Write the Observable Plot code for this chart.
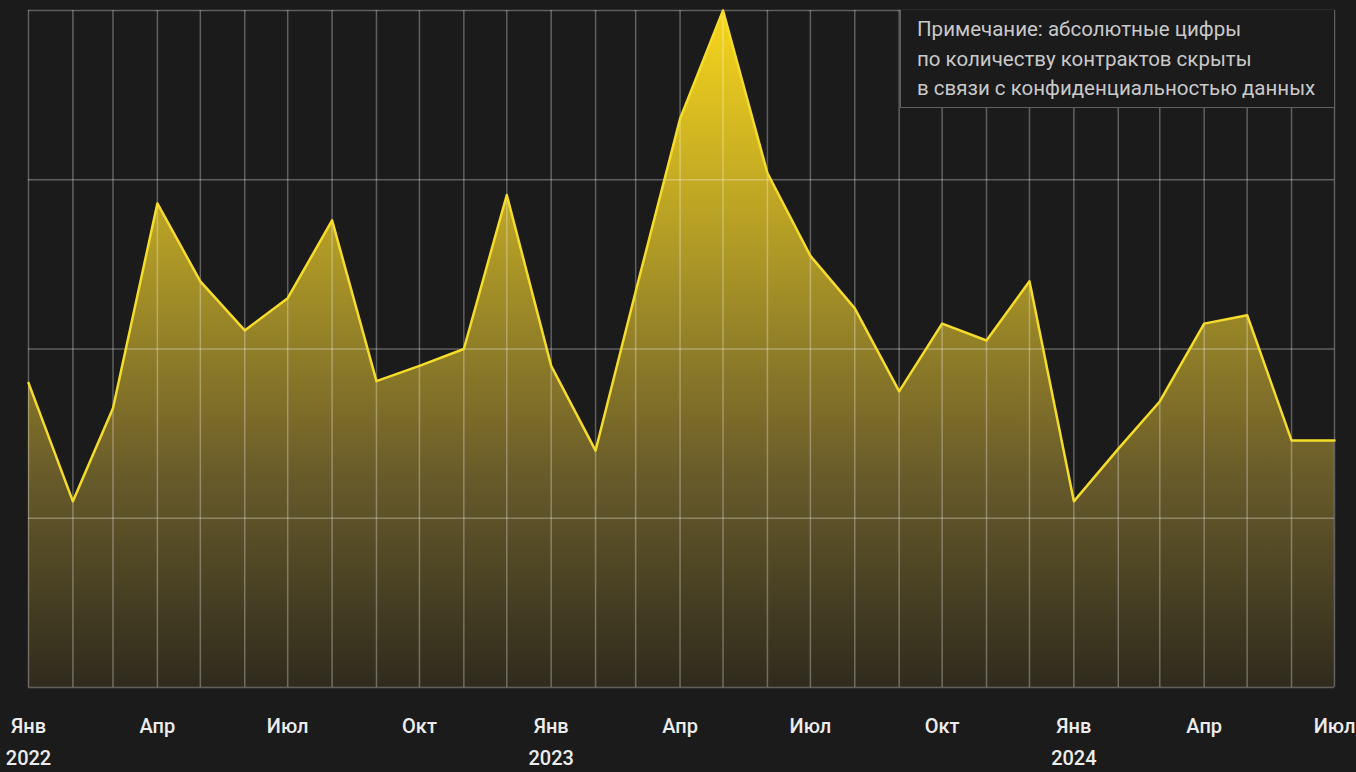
<!DOCTYPE html>
<html>
<head>
<meta charset="utf-8">
<script src="https://cdn.jsdelivr.net/npm/d3@7"></script>
<script src="https://cdn.jsdelivr.net/npm/@observablehq/plot@0.6"></script>
<style>
  html, body { margin: 0; padding: 0; background: #1b1b1b; }
  #wrap { position: relative; width: 1356px; height: 772px; overflow: hidden; }
  #note {
    position: absolute; left: 900px; top: 10px; width: 434px; height: 98px;
    box-sizing: border-box; background: #1b1b1b; border: 1.5px solid #5f5f5f; border-top: none; border-right: none;
    color: #c9c9c9; font-family: Roboto, "Noto Sans", sans-serif; font-size: 20.5px; line-height: 29.5px;
    padding: 5px 0 0 16px;
  }
</style>
</head>
<body>
<div id="wrap"></div>
<script>
const months = ["2022-01","2022-02","2022-03","2022-04","2022-05","2022-06","2022-07","2022-08","2022-09","2022-10","2022-11","2022-12",
  "2023-01","2023-02","2023-03","2023-04","2023-05","2023-06","2023-07","2023-08","2023-09","2023-10","2023-11","2023-12",
  "2024-01","2024-02","2024-03","2024-04","2024-05","2024-06","2024-07"];
const values = [180,110,165,286,240,211,230,276,181,190,200,291,
  190,140,234,336,400,304,255,224,175,215,205,240,
  110,141,169,215,220,146,146];
const monthNames = ["Янв","Фев","Мар","Апр","Май","Июн","Июл","Авг","Сен","Окт","Ноя","Дек"];
const yGrid = [0,100,200,300,400];
const noteLines = ["Примечание: абсолютные цифры","по количеству контрактов скрыты","в связи с конфиденциальностью данных"];

const data = months.map((m, i) => ({date: new Date(m + "-01T00:00:00Z"), value: values[i]}));

const gradientDefs = (index, scales, values, dims) => {
  const ns = "http://www.w3.org/2000/svg";
  const defs = document.createElementNS(ns, "defs");
  const lg = document.createElementNS(ns, "linearGradient");
  lg.setAttribute("id", "areaGrad");
  lg.setAttribute("gradientUnits", "userSpaceOnUse");
  lg.setAttribute("x1", 0); lg.setAttribute("x2", 0);
  lg.setAttribute("y1", dims.marginTop);
  lg.setAttribute("y2", dims.height - dims.marginBottom);
  [["0", "#f7d51c"], ["0.35", "#b09a26"], ["0.7", "#66592a"], ["1", "#2f2b1d"]].forEach(([o, c]) => {
    const s = document.createElementNS(ns, "stop");
    s.setAttribute("offset", o); s.setAttribute("stop-color", c);
    lg.appendChild(s);
  });
  defs.appendChild(lg);
  return defs;
};

const chart = Plot.plot({
  width: 1356,
  height: 772,
  marginLeft: 28,
  marginRight: 22,
  marginTop: 10,
  marginBottom: 85,
  style: {background: "#1b1b1b", fontFamily: "Roboto, 'Noto Sans', sans-serif"},
  x: {type: "utc", domain: [data[0].date, data[data.length - 1].date]},
  y: {domain: [0, 400], axis: null},
  marks: [
    gradientDefs,
    Plot.areaY(data, {x: "date", y: "value", fill: "url(#areaGrad)"}),
    Plot.gridX({ticks: d3.utcMonth.every(1), stroke: "#ffffff", strokeOpacity: 0.3, strokeWidth: 1.5}),
    Plot.gridY(yGrid, {stroke: "#ffffff", strokeOpacity: 0.3, strokeWidth: 1.5}),
    Plot.lineY(data, {x: "date", y: "value", stroke: "#f6dc2a", strokeWidth: 2.5}),
    Plot.axisX({
      ticks: d3.utcMonth.every(3),
      tickFormat: d => monthNames[d.getUTCMonth()] + (d.getUTCMonth() === 0 ? "\n" + d.getUTCFullYear() : ""),
      tickSize: 0,
      tickPadding: 23,
      fontSize: 20,
      fontWeight: 500,
      lineHeight: 1.6,
      fill: "#ececec",
      label: null
    })
  ]
});

const wrap = document.getElementById("wrap");
wrap.appendChild(chart);
const note = document.createElement("div");
note.id = "note";
note.innerHTML = noteLines.join("<br>");
wrap.appendChild(note);
</script>
</body>
</html>
